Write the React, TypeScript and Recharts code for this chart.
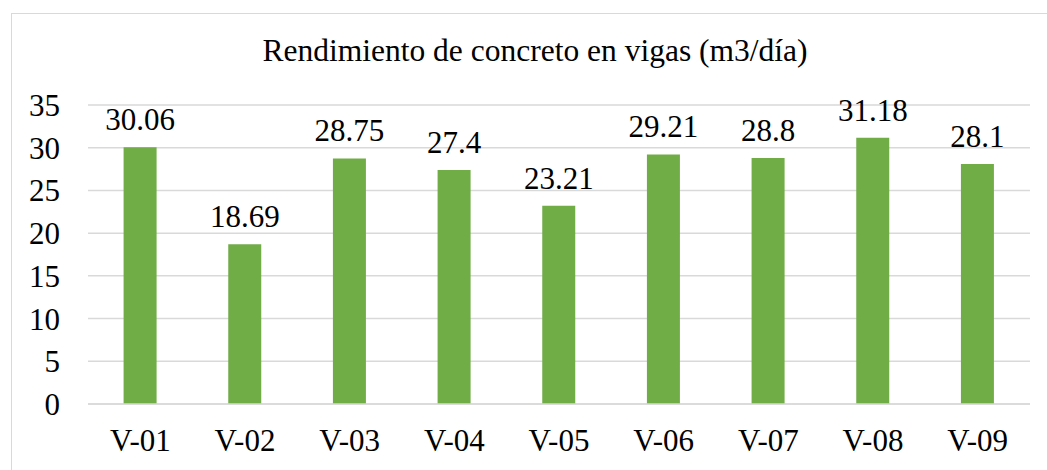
import React from "react";
import { BarChart, Bar, XAxis, YAxis, CartesianGrid, LabelList } from "recharts";

const categories = ["V-01", "V-02", "V-03", "V-04", "V-05", "V-06", "V-07", "V-08", "V-09"];
const values = [30.06, 18.69, 28.75, 27.4, 23.21, 29.21, 28.8, 31.18, 28.1];
const yTicks = [0, 5, 10, 15, 20, 25, 30, 35];
const title = "Rendimiento de concreto en vigas (m3/día)";

const data = categories.map((c, i) => ({ name: c, value: values[i] }));

const FONT = "Liberation Serif";

export default function App() {
  return (
    <div style={{ position: "absolute", left: 0, top: 0, width: 1047, height: 470, background: "#fff", overflow: "hidden", fontFamily: FONT }}>
      <div
        style={{
          position: "absolute",
          left: 11,
          top: 13,
          width: 1100,
          height: 500,
          borderLeft: "1px solid #d9d9d9",
          borderTop: "1px solid #d9d9d9",
        }}
      />
      <div
        style={{
          position: "absolute",
          left: 0,
          width: 1070,
          top: 31,
          textAlign: "center",
          fontFamily: FONT,
          fontSize: 31.5,
          lineHeight: "40px",
          color: "#000",
        }}
      >
        {title}
      </div>
      <div style={{ position: "absolute", left: 0, top: 0 }}>
        <BarChart
          width={1047}
          height={470}
          data={data}
          margin={{ top: 105, right: 17, bottom: 36, left: 0 }}
          barCategoryGap="34%"
          style={{ fontFamily: FONT }}
        >
          <CartesianGrid vertical={false} stroke="#d9d9d9" strokeWidth={1.5} />
          <XAxis
            dataKey="name"
            interval={0}
            axisLine={{ stroke: "#d9d9d9", strokeWidth: 1.5 }}
            tickLine={false}
            tickSize={0}
            tickMargin={25}
            tick={{ fill: "#000", fontFamily: FONT, fontSize: 31 }}
          />
          <YAxis
            domain={[0, 35]}
            ticks={yTicks}
            interval={0}
            width={88}
            axisLine={false}
            tickLine={false}
            tickSize={0}
            tickMargin={28}
            tick={{ fill: "#000", fontFamily: FONT, fontSize: 31 }}
          />
          <Bar dataKey="value" fill="#70ad47" isAnimationActive={false}>
            <LabelList
              dataKey="value"
              position="top"
              offset={17}
              fill="#000"
              fontFamily={FONT}
              fontSize={31}
            />
          </Bar>
        </BarChart>
      </div>
    </div>
  );
}
